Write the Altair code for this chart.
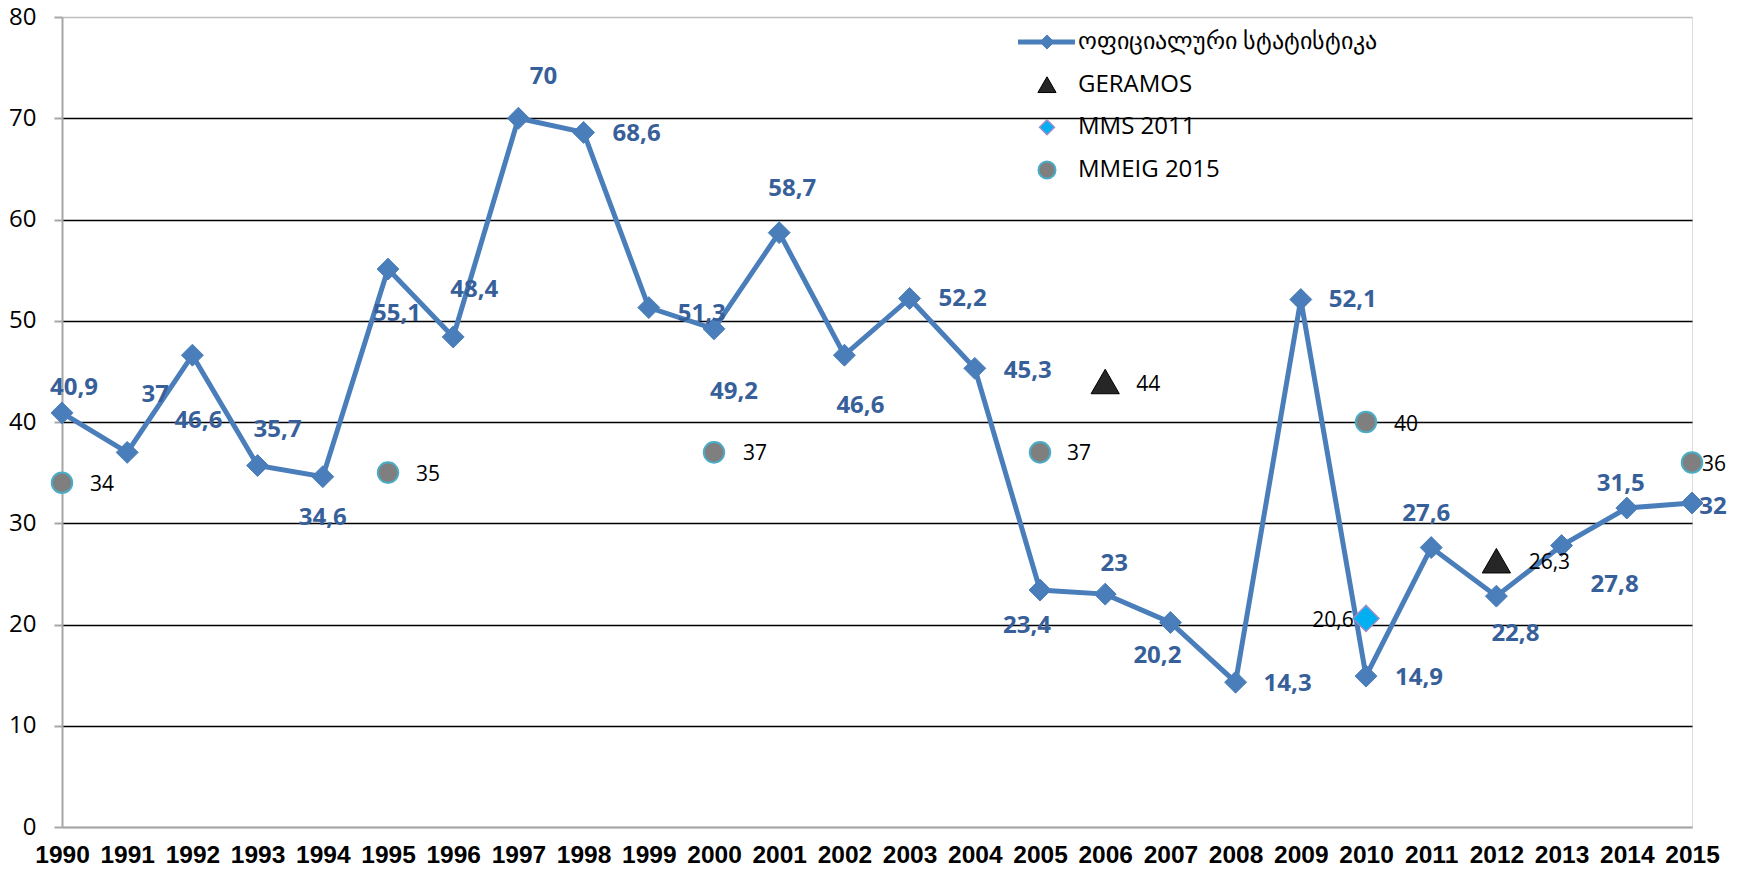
import altair as alt
import pandas as pd

# ---------------- data ----------------
years = [1990, 1991, 1992, 1993, 1994, 1995, 1996, 1997, 1998, 1999, 2000, 2001, 2002,
         2003, 2004, 2005, 2006, 2007, 2008, 2009, 2010, 2011, 2012, 2013, 2014, 2015]
official = [40.9, 37, 46.6, 35.7, 34.6, 55.1, 48.4, 70, 68.6, 51.3, 49.2, 58.7, 46.6,
            52.2, 45.3, 23.4, 23, 20.2, 14.3, 52.1, 14.9, 27.6, 22.8, 27.8, 31.5, 32]

geramos_years = [2006, 2012]
geramos = [44, 26.3]

mms_years = [2010]
mms = [20.6]

mmeig_years = [1990, 1995, 2000, 2005, 2010, 2015]
mmeig = [34, 35, 37, 37, 40, 36]

S_OFF = "ოფიციალური სტატისტიკა"
S_GER = "GERAMOS"
S_MMS = "MMS 2011"
S_MME = "MMEIG 2015"
series_order = [S_OFF, S_GER, S_MMS, S_MME]

# label placement (pixel offsets from the point)
off_dx = [12, 28, 6, 20, 0, 9, 21, 25, 53, 53, 20, 13, 16, 53, 53, -13, 9, -13, 52, 52, 53, -5, 19, 53, -6, 21]
off_dy = [-25, -57, 66, -36, 41, 45, -47, -41, 2, 6, 63, -44, 51, 1, 3, 36, -30, 34, 2, 1, 2, -34, 38, 39, -24, 4]
ger_dx, ger_dy = [43, 53], [3, 2]
mms_dx, mms_dy = [-33], [3]
mme_dx, mme_dy = [40, 40, 41, 39, 40, 22], [2, 2, 2, 2, 3, 2]

# ---------------- styles / layout ----------------
BLUE = "#4A7EBB"
LABEL_BLUE = "#37609A"
GREY_AXIS = "#A6A6A6"
FONT = "Open Sans"
W, H = 1630, 810
X_DOMAIN = [1990, 2015]
Y_DOMAIN = [0, 80]
PX_X = W / (X_DOMAIN[1] - X_DOMAIN[0])   # pixels per year
PX_Y = H / (Y_DOMAIN[1] - Y_DOMAIN[0])   # pixels per unit

# legend box placement (pixels inside the plot area)
LEG_ROWS = [25, 153]
LEG_SYM_X = 985
LEG_LINE = [956, 1013]
LEG_TEXT_X = 1016


def fmt(v):
    return f"{v:g}".replace(".", ",")


off_df = pd.DataFrame({"year": years, "value": official, "series": S_OFF,
                       "label": [fmt(v) for v in official], "dx": off_dx, "dy": off_dy})

others = []
for ys, vs, name, dxs, dys in [(geramos_years, geramos, S_GER, ger_dx, ger_dy),
                               (mms_years, mms, S_MMS, mms_dx, mms_dy),
                               (mmeig_years, mmeig, S_MME, mme_dx, mme_dy)]:
    for y, v, dx, dy in zip(ys, vs, dxs, dys):
        others.append({"year": y, "value": v, "series": name, "label": fmt(v), "dx": dx, "dy": dy})
oth_df = pd.DataFrame(others)

pts_df = pd.concat([off_df, oth_df], ignore_index=True)
leg_df = pd.DataFrame({"series": series_order})

x_enc = alt.X("year:Q",
              scale=alt.Scale(domain=X_DOMAIN, nice=False, zero=False),
              axis=alt.Axis(values=years, format="d", title=None, grid=False, ticks=False,
                            labelFont="Liberation Sans", labelFontSize=24.5, labelFontWeight="bold",
                            labelColor="black", labelPadding=35, labelBaseline="alphabetic",
                            labelFlush=False, labelOverlap=False,
                            domainColor=GREY_AXIS, domainWidth=2))
y_enc = alt.Y("value:Q",
              scale=alt.Scale(domain=Y_DOMAIN, nice=False),
              axis=alt.Axis(values=[0, 10, 20, 30, 40, 50, 60, 70, 80], title=None,
                            labelFont=FONT, labelFontSize=24, labelColor="black",
                            labelPadding=18, tickSize=8, tickColor=GREY_AXIS, tickWidth=2,
                            domainColor=GREY_AXIS, domainWidth=2,
                            grid=True, gridWidth=1.5,
                            gridColor={"condition": {"test": "datum.value === 80 || datum.value === 0",
                                                     "value": "#BFBFBF"},
                                       "value": "black"}))

line = alt.Chart(off_df).mark_line(color=BLUE, strokeWidth=5).encode(x=x_enc, y=y_enc)

fill_enc = alt.Fill("series:N",
                    scale=alt.Scale(domain=series_order,
                                    range=[BLUE, "#262626", "#00B0F0", "#7F7F7F"]),
                    legend=None)
shape_enc = alt.Shape("series:N",
                      scale=alt.Scale(domain=series_order,
                                      range=["diamond", "triangle-up", "diamond", "circle"]),
                      legend=None)
stroke_enc = alt.Stroke("series:N",
                        scale=alt.Scale(domain=series_order,
                                        range=[BLUE, "#000000", "#9A8CC8", "#4BACC6"]),
                        legend=None)


def point_layer(series, size, sw):
    return alt.Chart(pts_df).transform_filter(
        alt.datum.series == series
    ).mark_point(filled=True, opacity=1, size=size, strokeWidth=sw).encode(
        x="year:Q", y="value:Q", fill=fill_enc, shape=shape_enc, stroke=stroke_enc)


p_off = point_layer(S_OFF, 480, 1)
p_mme = point_layer(S_MME, 420, 2)
p_ger = point_layer(S_GER, 800, 1)
p_mms = point_layer(S_MMS, 680, 1.5)

calc = dict(xl=f"datum.year + datum.dx / {PX_X}", yl=f"datum.value - datum.dy / {PX_Y}")

off_labels = alt.Chart(off_df).transform_calculate(**calc).mark_text(
    font=FONT, fontSize=24, fontWeight="bold", color=LABEL_BLUE,
    align="center", baseline="middle").encode(
    x="xl:Q", y="yl:Q", text="label:N")

oth_labels = alt.Chart(oth_df).transform_calculate(**calc).mark_text(
    font=FONT, fontSize=21, color="black", align="center", baseline="middle").encode(
    x="xl:Q", y="yl:Q", text="label:N")

main = alt.layer(line, p_off, p_mme, p_ger, p_mms, off_labels, oth_labels)

# ---------------- legend (drawn as its own small layer) ----------------
leg_y = alt.Y("series:N",
              scale=alt.Scale(type="point", domain=series_order, range=LEG_ROWS, padding=0),
              axis=None)

leg_line = alt.Chart(leg_df).transform_filter(alt.datum.series == S_OFF).mark_rule(
    color=BLUE, strokeWidth=5).encode(
    x=alt.value(LEG_LINE[0]), x2=alt.value(LEG_LINE[1]), y=leg_y)


def leg_sym(series, size, sw):
    return alt.Chart(leg_df).transform_filter(alt.datum.series == series).mark_point(
        filled=True, opacity=1, size=size, strokeWidth=sw).encode(
        x=alt.value(LEG_SYM_X), y=leg_y, fill=fill_enc, shape=shape_enc, stroke=stroke_enc)


leg_text = alt.Chart(leg_df).mark_text(
    font=FONT, fontSize=24, color="black", align="left", baseline="middle").encode(
    x=alt.value(LEG_TEXT_X), y=leg_y, text="series:N")

legend = alt.layer(leg_line, leg_sym(S_OFF, 200, 1), leg_sym(S_GER, 330, 1),
                   leg_sym(S_MMS, 220, 1.5), leg_sym(S_MME, 290, 2), leg_text)

chart = alt.layer(main, legend).resolve_scale(y="independent").properties(
    width=W, height=H,
    padding={"left": 54, "top": 9, "right": 43, "bottom": 41},
    autosize="none",
).configure_view(stroke=None).configure(background="white")

chart.save("out.html", embed_options={"renderer": "svg", "actions": False})
